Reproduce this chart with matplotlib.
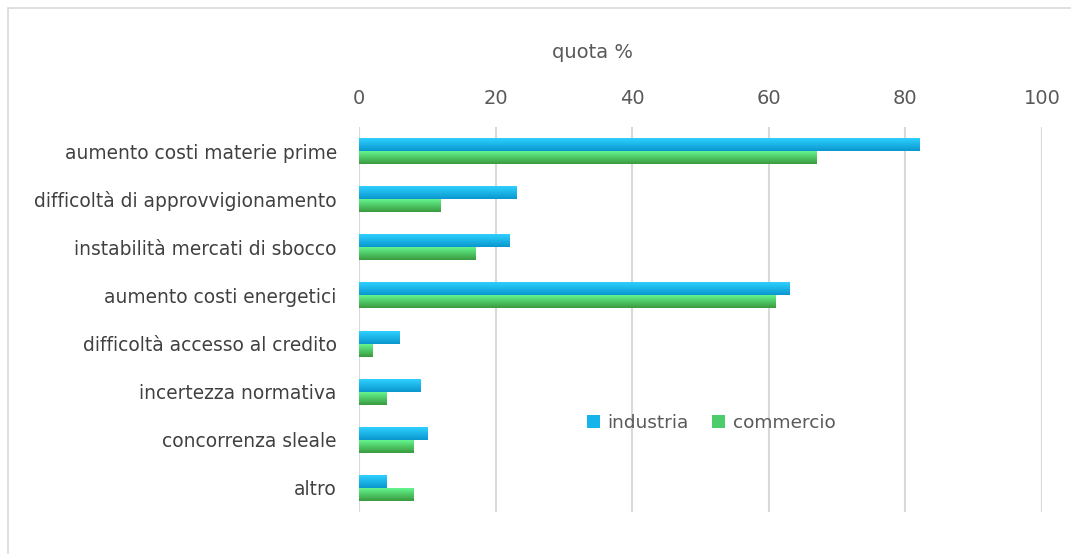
import numpy as np
import matplotlib
matplotlib.use("Agg")
import matplotlib.pyplot as plt
from matplotlib.patches import Rectangle
from matplotlib.colors import LinearSegmentedColormap

categories = ["aumento costi materie prime", "difficoltà di approvvigionamento",
              "instabilità mercati di sbocco", "aumento costi energetici",
              "difficoltà accesso al credito", "incertezza normativa",
              "concorrenza sleale", "altro"]
industria = [82, 23, 22, 63, 6, 9, 10, 4]
commercio = [67, 12, 17, 61, 2, 4, 8, 8]
series_names = ["industria", "commercio"]
xticks = [0, 20, 40, 60, 80, 100]

plt.rcParams['font.family'] = ['DejaVu Sans']
fig = plt.figure(figsize=(10.71, 5.54), dpi=100)
fig.patches.append(Rectangle((8/1071, -0.01), 1.05, 1 - 8/554 + 0.01, transform=fig.transFigure,
                             fill=False, edgecolor="#d9d9d9", linewidth=1.2))
ax = fig.add_axes([359/1071, 1 - 512/554, (1042 - 359)/1071, (512 - 127)/554])

y = np.arange(len(categories))
h = 0.27
blue_cmap = LinearSegmentedColormap.from_list("b", ["#2fd0ff", "#0a97cf"])
green_cmap = LinearSegmentedColormap.from_list("g", ["#64f58e", "#3a9a3e"])
grad = np.linspace(0, 1, 64).reshape(-1, 1)

b1 = ax.barh(y - h/2, industria, height=h, color="#15b4ea", label=series_names[0], zorder=3)
b2 = ax.barh(y + h/2, commercio, height=h, color="#4ccc6a", label=series_names[1], zorder=3)
for bars, cmap in ((b1, blue_cmap), (b2, green_cmap)):
    for p in bars:
        x0, y0 = p.get_x(), p.get_y()
        w, hh = p.get_width(), p.get_height()
        im = ax.imshow(grad, cmap=cmap, aspect="auto", extent=(x0, x0 + w, y0 + hh, y0),
                       origin="upper", zorder=3.5, interpolation="bilinear")
        im.set_clip_path(p)

ax.set_xlim(0, 100)
ax.set_ylim(len(categories) - 0.5, -0.5)
ax.set_xticks(xticks)
ax.xaxis.tick_top()
ax.tick_params(axis="x", length=0, pad=14, labelsize=14, labelcolor="#595959")
ax.set_yticks(y)
ax.set_yticklabels(categories)
ax.tick_params(axis="y", length=0, pad=16, labelsize=13.4, labelcolor="#404040")
ax.grid(axis="x", color="#d9d9d9", linewidth=1.5, zorder=0)
for s in ax.spines.values():
    s.set_visible(False)

fig.text(592/1071, 1 - 53/554, "quota %", ha="center", va="center", fontsize=14, color="#595959")

leg = ax.legend(loc="center", bbox_to_anchor=(711/1071, 1 - 423/554), bbox_transform=fig.transFigure,
                ncol=2, frameon=False, fontsize=13.3, handlelength=0.7, handleheight=0.7,
                columnspacing=1.3, handletextpad=0.4)
for t in leg.get_texts():
    t.set_color("#595959")

fig.savefig("out.png", dpi=100)
